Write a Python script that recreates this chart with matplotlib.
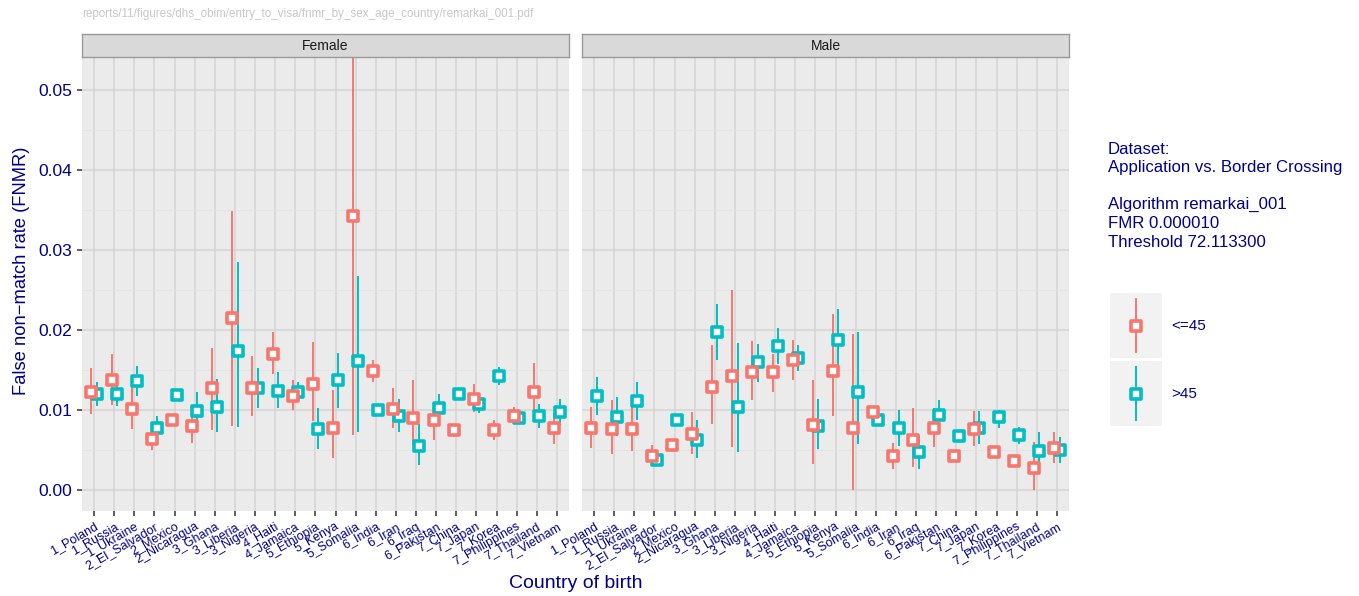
import matplotlib
matplotlib.use("Agg")
import matplotlib.pyplot as plt
from matplotlib.markers import MarkerStyle
import numpy as np

plt.rcParams['font.family'] = ['Liberation Sans', 'DejaVu Sans']

countries = ["1_Poland", "1_Russia", "1_Ukraine", "2_El_Salvador", "2_Mexico",
             "2_Nicaragua", "3_Ghana", "3_Liberia", "3_Nigeria", "4_Haiti",
             "4_Jamaica", "5_Ethiopia", "5_Kenya", "5_Somalia", "6_India",
             "6_Iran", "6_Iraq", "6_Pakistan", "7_China", "7_Japan", "7_Korea",
             "7_Philippines", "7_Thailand", "7_Vietnam"]

# Female, age <=45
f_young = [0.0123, 0.0137, 0.0101, 0.0064, 0.0087, 0.0080, 0.0127, 0.0215, 0.0128, 0.0170,
           0.0118, 0.0133, 0.0078, 0.0343, 0.0149, 0.0101, 0.0090, 0.0087, 0.0075, 0.0114,
           0.0075, 0.0093, 0.0123, 0.0077]
f_young_lo = [0.0095, 0.0106, 0.0076, 0.0050, 0.0083, 0.0059, 0.0075, 0.0080, 0.0093, 0.0145,
              0.0100, 0.0086, 0.0040, 0.0069, 0.0135, 0.0077, 0.0056, 0.0063, 0.0066, 0.0097,
              0.0062, 0.0086, 0.0100, 0.0058]
f_young_hi = [0.0152, 0.0170, 0.0129, 0.0071, 0.0090, 0.0094, 0.0178, 0.0349, 0.0167, 0.0198,
              0.0137, 0.0185, 0.0125, 0.0600, 0.0163, 0.0128, 0.0138, 0.0100, 0.0083, 0.0132,
              0.0087, 0.0104, 0.0159, 0.0096]
# Female, age >45
f_old = [0.0120, 0.0120, 0.0136, 0.0077, 0.0119, 0.0099, 0.0104, 0.0174, 0.0127, 0.0124,
         0.0123, 0.0076, 0.0137, 0.0161, 0.0100, 0.0092, 0.0055, 0.0102, 0.0120, 0.0108,
         0.0143, 0.0090, 0.0093, 0.0098]
f_old_lo = [0.0105, 0.0105, 0.0117, 0.0071, 0.0115, 0.0083, 0.0072, 0.0079, 0.0103, 0.0103,
            0.0117, 0.0051, 0.0102, 0.0072, 0.0097, 0.0072, 0.0031, 0.0088, 0.0116, 0.0096,
            0.0131, 0.0087, 0.0077, 0.0081]
f_old_hi = [0.0135, 0.0133, 0.0155, 0.0093, 0.0122, 0.0123, 0.0139, 0.0285, 0.0153, 0.0148,
            0.0135, 0.0103, 0.0171, 0.0268, 0.0103, 0.0114, 0.0083, 0.0120, 0.0123, 0.0121,
            0.0154, 0.0093, 0.0108, 0.0114]
# Male, age <=45
m_young = [0.0077, 0.0076, 0.0076, 0.0042, 0.0056, 0.0070, 0.0129, 0.0143, 0.0148, 0.0148,
           0.0163, 0.0081, 0.0149, 0.0078, 0.0097, 0.0042, 0.0063, 0.0078, 0.0043, 0.0076,
           0.0048, 0.0036, 0.0027, 0.0053]
m_young_lo = [0.0052, 0.0045, 0.0049, 0.0034, 0.0052, 0.0045, 0.0083, 0.0054, 0.0112, 0.0123,
              0.0138, 0.0033, 0.0093, 0.0000, 0.0090, 0.0026, 0.0029, 0.0054, 0.0040, 0.0055,
              0.0040, 0.0030, 0.0000, 0.0034]
m_young_hi = [0.0104, 0.0112, 0.0104, 0.0056, 0.0060, 0.0097, 0.0181, 0.0250, 0.0186, 0.0170,
              0.0188, 0.0138, 0.0220, 0.0195, 0.0105, 0.0059, 0.0103, 0.0103, 0.0046, 0.0099,
              0.0055, 0.0041, 0.0060, 0.0072]
# Male, age >45
m_old = [0.0117, 0.0091, 0.0111, 0.0037, 0.0088, 0.0063, 0.0197, 0.0104, 0.0160, 0.0180,
         0.0165, 0.0080, 0.0187, 0.0123, 0.0088, 0.0077, 0.0047, 0.0094, 0.0067, 0.0077,
         0.0091, 0.0069, 0.0049, 0.0050]
m_old_lo = [0.0094, 0.0068, 0.0088, 0.0031, 0.0085, 0.0040, 0.0163, 0.0047, 0.0135, 0.0157,
            0.0149, 0.0051, 0.0150, 0.0057, 0.0085, 0.0055, 0.0026, 0.0079, 0.0060, 0.0057,
            0.0078, 0.0058, 0.0033, 0.0034]
m_old_hi = [0.0141, 0.0116, 0.0135, 0.0040, 0.0091, 0.0088, 0.0233, 0.0184, 0.0183, 0.0203,
            0.0181, 0.0114, 0.0226, 0.0197, 0.0091, 0.0100, 0.0067, 0.0113, 0.0073, 0.0099,
            0.0100, 0.0079, 0.0073, 0.0066]

age_groups = ["<=45", ">45"]
sexes = ["Female", "Male"]
yticks = [0.00, 0.01, 0.02, 0.03, 0.04, 0.05]

RED = "#F8766D"
CYAN = "#00BFC4"
TXT = "#00008B"
W, H = 1359, 596
fig = plt.figure(figsize=(W / 100, H / 100), dpi=100)
square = MarkerStyle("s", joinstyle="round")
MS, MEW, ELW = 6.5, 2.6, 1.4


def px_axes(x0, y0, x1, y1, **kw):
    return fig.add_axes([x0 / W, 1 - y1 / H, (x1 - x0) / W, (y1 - y0) / H], **kw)


panel_data = {
    "Female": ((f_young, f_young_lo, f_young_hi), (f_old, f_old_lo, f_old_hi)),
    "Male": ((m_young, m_young_lo, m_young_hi), (m_old, m_old_lo, m_old_hi)),
}
panels = {"Female": (82, 569), "Male": (582, 1069)}
top, bottom = 57.5, 510.7
x = np.arange(len(countries))
dodge = 0.13

for sex in sexes:
    x0, x1 = panels[sex]
    ax = px_axes(x0, top, x1, bottom)
    ax.set_facecolor("#EBEBEB")
    ax.set_xlim(-0.6, len(countries) - 1 + 0.6)
    ax.set_ylim(-0.0026, 0.0541)
    ax.set_yticks(yticks)
    ax.set_yticks([0.005, 0.015, 0.025, 0.035, 0.045], minor=True)
    ax.set_xticks(x)
    ax.grid(True, which="major", color="#D4D4D4", lw=1.1)
    ax.grid(True, which="minor", axis="y", color="#E2E2E2", lw=0.6)
    ax.set_axisbelow(True)
    for s in ax.spines.values():
        s.set_visible(False)
    ax.tick_params(axis="both", which="major", length=3.5, width=1.1, color="#333333",
                   labelcolor=TXT)
    ax.tick_params(axis="y", which="minor", length=0)
    ax.set_xticklabels(countries, rotation=30, ha="right", va="top",
                       rotation_mode="anchor", fontsize=9)
    if sex == "Female":
        ax.set_yticklabels([f"{v:.2f}" for v in yticks], fontsize=12.5)
    else:
        ax.set_yticklabels([])
        ax.tick_params(axis="y", length=0)

    (yv, ylo, yhi), (ov, olo, ohi) = panel_data[sex]
    xr = x - dodge
    xc = x + dodge
    ax.vlines(xr, ylo, yhi, color=RED, lw=ELW, zorder=2)
    ax.vlines(xc, olo, ohi, color=CYAN, lw=ELW, zorder=2)
    ax.plot(xc, ov, ls="none", marker=square, ms=MS, mfc="white", mec=CYAN, mew=MEW,
            zorder=3)
    ax.plot(xr, yv, ls="none", marker=square, ms=MS, mfc="white", mec=RED, mew=MEW,
            zorder=4)

    # facet strip
    sax = px_axes(x0, 34.3, x1, 57.3)
    sax.set_facecolor("#D9D9D9")
    sax.set_xticks([])
    sax.set_yticks([])
    for s in sax.spines.values():
        s.set_color("#9A9A9A")
        s.set_linewidth(1.0)
    sax.text(0.5, 0.5, sex, ha="center", va="center", fontsize=10, color="#1A1A1A",
             transform=sax.transAxes)

fig.text(22 / W, 1 - 270.5 / H, "False non\u2212match rate (FNMR)", rotation=90,
         ha="center", va="center", fontsize=13.2, color=TXT)
fig.text(575.5 / W, 1 - 583 / H, "Country of birth", ha="center", va="center",
         fontsize=14, color=TXT)
fig.text(82 / W, 1 - 14 / H,
         "reports/11/figures/dhs_obim/entry_to_visa/fnmr_by_sex_age_country/remarkai_001.pdf",
         ha="left", va="center", fontsize=8.4, color="#C8C8C8")

info = ("Dataset:\nApplication vs. Border Crossing\n\n"
        "Algorithm remarkai_001\nFMR 0.000010\nThreshold 72.113300")
fig.text(1108 / W, 1 - 141.5 / H, info, ha="left", va="top", fontsize=12.1, color=TXT,
         linespacing=1.3)

# legend keys
for i, (lab, col) in enumerate(zip(age_groups, [RED, CYAN])):
    ky0 = 293 + i * 68
    kax = px_axes(1110, ky0, 1162, ky0 + 65)
    kax.set_facecolor("#F2F2F2")
    kax.set_xlim(0, 1)
    kax.set_ylim(0, 1)
    kax.set_xticks([])
    kax.set_yticks([])
    for s in kax.spines.values():
        s.set_visible(False)
    kax.vlines(0.5, 0.08, 0.92, color=col, lw=ELW)
    kax.plot([0.5], [0.5], ls="none", marker=square, ms=MS, mfc="white", mec=col, mew=MEW)
    fig.text(1171 / W, 1 - (ky0 + 33) / H, lab, ha="left", va="center", fontsize=11,
             color=TXT)

fig.savefig("out.png", dpi=100)
